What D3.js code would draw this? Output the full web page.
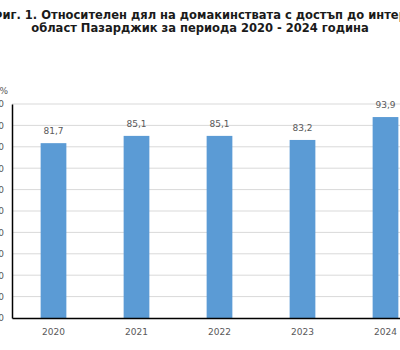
<!DOCTYPE html>
<html>
<head>
<meta charset="utf-8">
<script src="https://cdn.jsdelivr.net/npm/d3@7"></script>
<style>
  body { margin: 0; background: #fff; overflow: hidden; }
  svg { display: block; }
</style>
</head>
<body>
<svg id="chart" width="400" height="350"></svg>
<script>
// Данни
const years = ["2020", "2021", "2022", "2023", "2024"];
const values = [81.7, 85.1, 85.1, 83.2, 93.9];
const yTicks = [0, 10, 20, 30, 40, 50, 60, 70, 80, 90, 100];
const titleLines = [
  "Фиг. 1. Относителен дял на домакинствата с достъп до интернет в",
  "област Пазарджик за периода 2020 - 2024 година"
];

const svg = d3.select("#chart");

// Заглавие
svg.append("text")
  .attr("x", -9).attr("y", 19)
  .attr("font-family", "DejaVu Sans, Verdana, sans-serif")
  .attr("font-size", "11.5px").attr("font-weight", "bold")
  .attr("fill", "#1a1a1a")
  .text(titleLines[0]);
svg.append("text")
  .attr("x", 200).attr("y", 32)
  .attr("text-anchor", "middle")
  .attr("font-family", "DejaVu Sans, Verdana, sans-serif")
  .attr("font-size", "11.5px").attr("font-weight", "bold")
  .attr("fill", "#1a1a1a")
  .text(titleLines[1]);

const plotLeft = 12, plotRight = 427, plotTop = 104, plotBottom = 318;

const x = d3.scaleBand().domain(years).range([plotLeft, plotRight]).paddingInner(0.69).paddingOuter(0.345);
const y = d3.scaleLinear().domain([0, 100]).range([plotBottom, plotTop]);

// Хоризонтални линии
svg.append("g")
  .selectAll("line")
  .data(yTicks.filter(d => d > 0))
  .join("line")
  .attr("x1", plotLeft).attr("x2", plotRight)
  .attr("y1", d => y(d)).attr("y2", d => y(d))
  .attr("stroke", "#d9d9d9").attr("stroke-width", 1);

// Ос Y
const yAxis = svg.append("g")
  .attr("transform", `translate(${plotLeft},0)`)
  .call(d3.axisLeft(y).tickValues(yTicks).tickSize(0).tickPadding(8));
yAxis.select(".domain").attr("stroke", "#000").attr("stroke-width", 1.5);
yAxis.selectAll("text")
  .attr("font-family", "DejaVu Sans, Verdana, sans-serif")
  .attr("font-size", "9px").attr("fill", "#595959");

svg.append("text")
  .attr("x", 8).attr("y", 94)
  .attr("text-anchor", "end")
  .attr("font-family", "DejaVu Sans, Verdana, sans-serif")
  .attr("font-size", "9px").attr("fill", "#595959")
  .text("%");

// Колони
svg.append("g")
  .selectAll("rect")
  .data(values)
  .join("rect")
  .attr("x", (d, i) => x(years[i]))
  .attr("y", d => y(d))
  .attr("width", x.bandwidth())
  .attr("height", d => y(0) - y(d))
  .attr("fill", "#5b9bd5");

// Стойности
svg.append("g")
  .selectAll("text")
  .data(values)
  .join("text")
  .attr("x", (d, i) => x(years[i]) + x.bandwidth() / 2)
  .attr("y", d => y(d) - 9)
  .attr("text-anchor", "middle")
  .attr("font-family", "DejaVu Sans, Verdana, sans-serif")
  .attr("font-size", "9px").attr("fill", "#595959")
  .text(d => d3.format(".1f")(d).replace(".", ","));

// Ос X
const xAxis = svg.append("g")
  .attr("transform", `translate(0,${plotBottom})`)
  .call(d3.axisBottom(x).tickSize(0).tickPadding(11));
xAxis.select(".domain").attr("stroke", "#000").attr("stroke-width", 1.5);
xAxis.selectAll("text")
  .attr("font-family", "DejaVu Sans, Verdana, sans-serif")
  .attr("font-size", "9px").attr("fill", "#595959");
</script>
</body>
</html>
